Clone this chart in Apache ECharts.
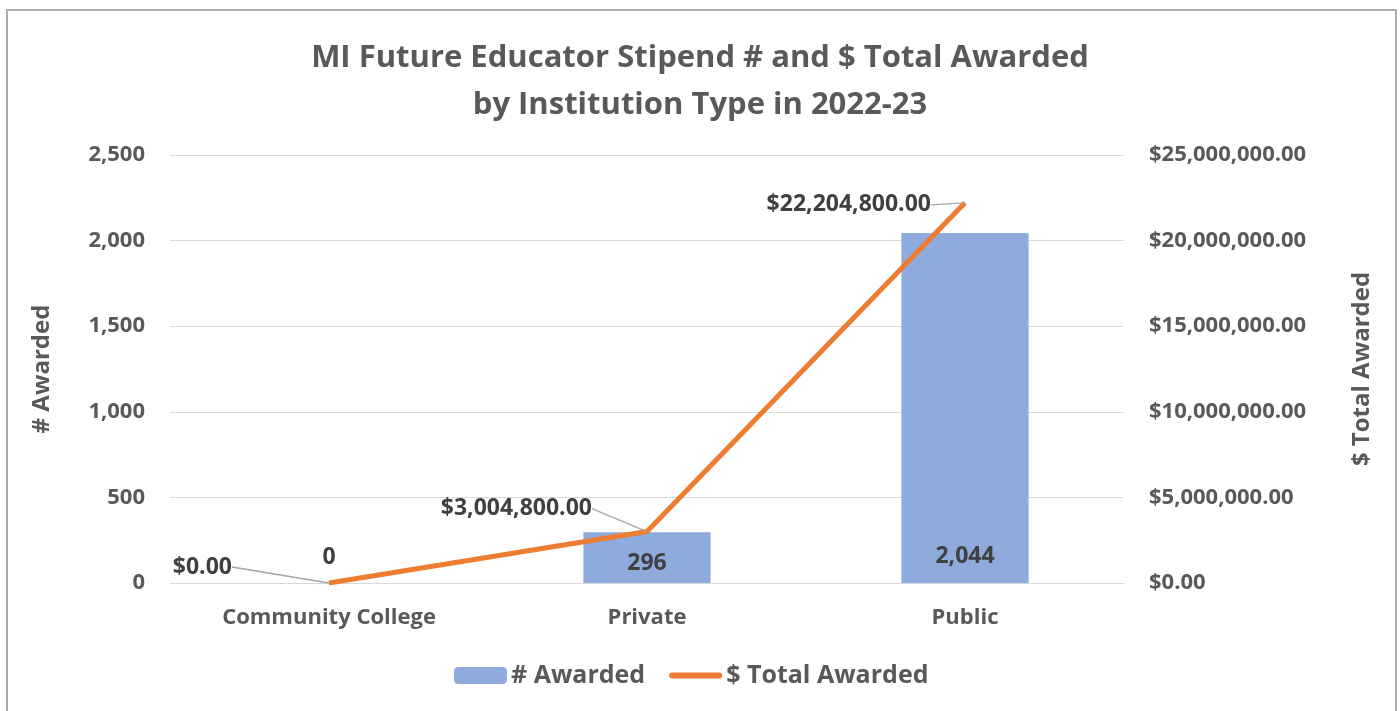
<!DOCTYPE html>
<html>
<head>
<meta charset="utf-8">
<script src="https://cdn.jsdelivr.net/npm/echarts@6/dist/echarts.min.js"></script>
<style>
    html, body { margin: 0; padding: 0; background: #fff; }
    #chart { width: 1400px; height: 711px; }
    .frame {
        position: absolute; left: 6px; top: 9px; width: 1387px; height: 710px;
        border: 2px solid #ababab; border-bottom: none; pointer-events: none;
    }
</style>
</head>
<body>
<div id="chart"></div>
<div class="frame"></div>
<script>
    const categories = ['Community College', 'Private', 'Public'];
    const numAwarded = [0, 296, 2044];
    const totalAwarded = [0, 3004800, 22204800];
    const leftTicks = [0, 2500, 500];          // min, max, interval
    const rightTicks = [0, 25000000, 5000000];

    // label nudges (px) so the leader lines look like the original
    const lineLabelShift = [[-83, -16], [-41, -23], [-20, 2]];
    const barLabelShift = [0, 6, -1];

    const txt = '#595959';
    const font = 'Open Sans';

    const money = v => '$' + Number(v).toLocaleString('en-US', {minimumFractionDigits: 2, maximumFractionDigits: 2});
    const num = v => Number(v).toLocaleString('en-US');

    const chart = echarts.init(document.getElementById('chart'));
    chart.setOption({
        animation: false,
        textStyle: { fontFamily: font },
        title: {
            text: 'MI Future Educator Stipend # and $ Total Awarded\nby Institution Type in 2022-23',
            left: 'center',
            top: 30,
            textStyle: { fontFamily: font, fontSize: 31, fontWeight: 'bold', color: txt, lineHeight: 47 }
        },
        legend: {
            bottom: 18,
            left: 449,
            itemWidth: 53,
            itemHeight: 17,
            itemGap: 24,
            textStyle: { fontFamily: font, fontSize: 25, fontWeight: 'bold', color: txt, padding: [0, 0, 0, -1] },
            data: [
                { name: '# Awarded' },
                { name: '$ Total Awarded', icon: 'path://M3,0 L51,0 A3,3 0 0 1 51,6 L3,6 A3,3 0 0 1 3,0 Z' }
            ]
        },
        grid: { left: 170, right: 276, top: 155, bottom: 128 },
        xAxis: {
            type: 'category',
            data: categories,
            axisLine: { lineStyle: { color: '#d9d9d9', width: 1 } },
            axisTick: { show: false },
            axisLabel: { color: txt, fontFamily: font, fontSize: 22, fontWeight: 'bold', margin: 24 }
        },
        yAxis: [
            {
                type: 'value',
                min: leftTicks[0], max: leftTicks[1], interval: leftTicks[2],
                name: '# Awarded',
                nameLocation: 'middle',
                nameGap: 116,
                nameRotate: 90,
                nameTextStyle: { color: txt, fontFamily: font, fontSize: 24, fontWeight: 'bold' },
                axisLabel: { color: txt, fontFamily: font, fontSize: 22, fontWeight: 'bold', margin: 25, formatter: num },
                splitLine: { lineStyle: { color: '#d9d9d9', width: 1 } }
            },
            {
                type: 'value',
                min: rightTicks[0], max: rightTicks[1], interval: rightTicks[2],
                name: '$ Total Awarded',
                nameLocation: 'middle',
                nameGap: 226,
                nameRotate: 90,
                nameTextStyle: { color: txt, fontFamily: font, fontSize: 24, fontWeight: 'bold' },
                axisLabel: { color: txt, fontFamily: font, fontSize: 22, fontWeight: 'bold', margin: 25, formatter: money },
                splitLine: { show: false }
            }
        ],
        series: [
            {
                name: '# Awarded',
                type: 'bar',
                yAxisIndex: 0,
                barWidth: '40%',
                itemStyle: { color: '#8faadc' },
                data: numAwarded,
                label: {
                    show: true,
                    position: 'insideBottom',
                    distance: 14,
                    color: '#404040',
                    fontFamily: font,
                    fontSize: 23,
                    fontWeight: 'bold',
                    formatter: p => num(p.value)
                },
                labelLayout: p => ({ dy: barLabelShift[p.dataIndex] })
            },
            {
                name: '$ Total Awarded',
                type: 'line',
                yAxisIndex: 1,
                symbol: 'circle',
                symbolSize: 0.1,
                showSymbol: true,
                lineStyle: { color: '#ed7d31', width: 5 },
                itemStyle: { color: '#ed7d31' },
                data: totalAwarded,
                label: {
                    show: true,
                    position: 'left',
                    distance: 5,
                    padding: [0, 9, 0, 0],
                    color: '#404040',
                    fontFamily: font,
                    fontSize: 23,
                    fontWeight: 'bold',
                    formatter: p => money(p.value)
                },
                labelLine: { show: true, lineStyle: { color: '#a6a6a6', width: 1.3 } },
                labelLayout: p => ({ dx: lineLabelShift[p.dataIndex][0], dy: lineLabelShift[p.dataIndex][1] })
            }
        ]
    });
</script>
</body>
</html>
